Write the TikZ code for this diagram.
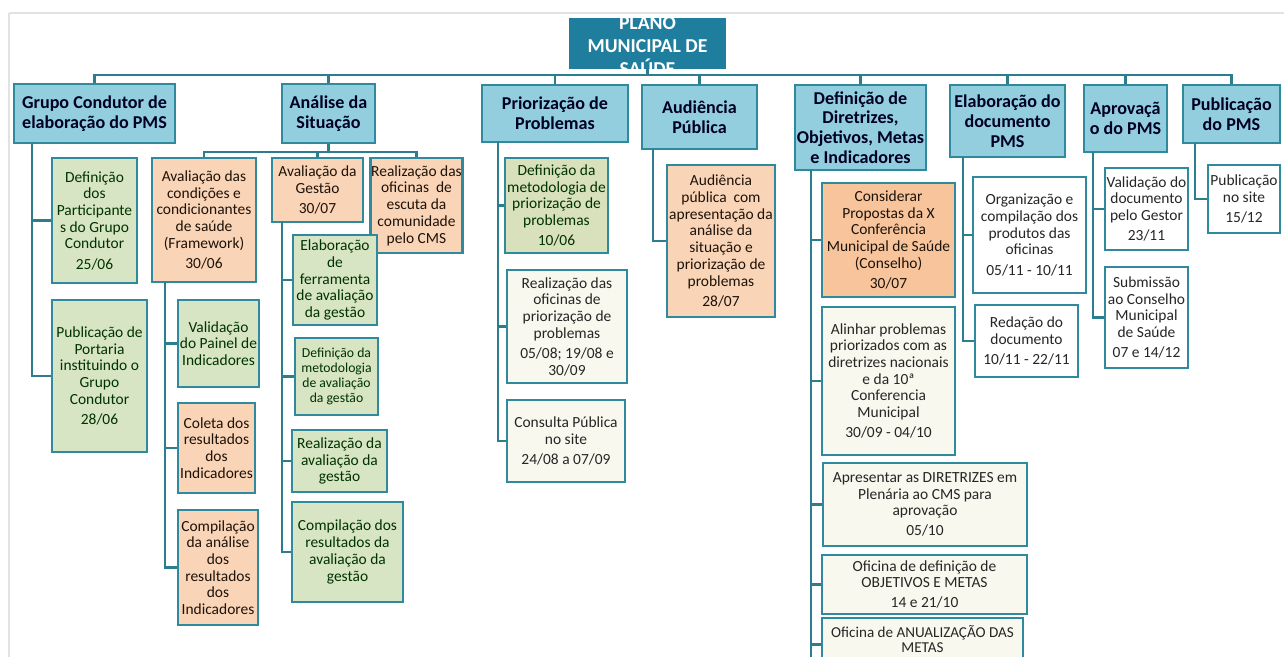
\documentclass[tikz,border=0pt]{standalone}
\usepackage{fontspec}
\setmainfont{Carlito}

\definecolor{bordc}{HTML}{2E8A9C}
\definecolor{linkc}{HTML}{2C7D8E}
\definecolor{titlec}{HTML}{1F7E9E}
\definecolor{headc}{HTML}{92CEDE}
\definecolor{greenc}{HTML}{D7E5C4}
\definecolor{olivec}{HTML}{D8E0BC}
\definecolor{orangec}{HTML}{FAD4B6}
\definecolor{orangedc}{HTML}{F8C49C}
\definecolor{lightc}{HTML}{F8F8EE}
\definecolor{edgec}{HTML}{E2E2E2}

\begin{document}
\begin{tikzpicture}
    [
        plano/.style = {draw=titlec, fill=titlec, shape=rectangle, line width=1pt},
        planotext/.style = {text=white, font=\fontsize{11.2}{13.2}\selectfont\bfseries, align=center},
        header/.style = {draw=bordc, fill=headc, shape=rectangle, line width=1.5pt, inner sep=1pt, align=center, text=black!85!blue, font=\fontsize{10.3}{11.3}\selectfont\bfseries},
        green/.style = {draw=bordc, fill=greenc, shape=rectangle, line width=1.5pt, inner sep=0.5pt, align=center, text=black!80!green, font=\fontsize{8.8}{9.5}\selectfont},
        orange/.style = {draw=bordc, fill=orangec, shape=rectangle, line width=1.5pt, inner sep=0.5pt, align=center, text=black!85!brown, font=\fontsize{8.8}{9.5}\selectfont},
        light/.style = {draw=bordc, fill=lightc, shape=rectangle, line width=1.5pt, inner sep=0.5pt, align=center, text=black!85, font=\fontsize{8.8}{9.5}\selectfont},
        link/.style = {draw=linkc, line width=1.4pt},
    ]

    \useasboundingbox (0,0) rectangle (25.68,-13.14);
    \fill[white] (0,0) rectangle (25.68,-13.14);
    \draw[edgec, line width=1pt] (0.18,-0.26) -- (0.18,-13.14);
    \draw[edgec, line width=1pt] (0.18,-0.26) -- (25.68,-0.26);

    % title
    \node[plano, minimum width=3.10cm, minimum height=0.98cm] (plano) at (12.95,-0.87) {};
    \begin{scope}
        \clip (plano.south west) rectangle (plano.north east);
        \node[planotext] (planot) at (12.95,-0.92) {PLANO\\MUNICIPAL DE\\SAÚDE};
    \end{scope}

    % headers
    \node[header, minimum width=3.22cm, minimum height=1.18cm] (hA) at (1.89,-2.27)  {Grupo Condutor de\\elaboração do PMS};
    \node[header, minimum width=1.86cm, minimum height=1.18cm] (hB) at (6.57,-2.27)  {Análise da\\Situação};
    \node[header, minimum width=2.92cm, minimum height=1.14cm] (hC) at (11.10,-2.27) {Priorização de\\Problemas};
    \node[header, minimum width=2.30cm, minimum height=1.28cm] (hD) at (13.99,-2.34) {Audiência\\Pública};
    \node[header, minimum width=2.58cm, minimum height=1.70cm] (hE) at (17.21,-2.55) {Definição de\\Diretrizes,\\Objetivos, Metas\\e Indicadores};
    \node[header, minimum width=2.30cm, minimum height=1.44cm] (hF) at (20.15,-2.42) {Elaboração do\\documento\\PMS};
    \node[header, minimum width=1.66cm, minimum height=1.34cm] (hG) at (22.51,-2.37) {Aprovaçã\\o do PMS};
    \node[header, minimum width=1.94cm, minimum height=1.16cm] (hH) at (24.63,-2.28) {Publicação\\do PMS};

    % grupo condutor
    \node[green, minimum width=1.70cm, minimum height=2.50cm] (a1) at (1.89,-4.41) {Definição\\dos\\Participante\\s do Grupo\\Condutor\\[2pt]25/06};
    \node[green, minimum width=1.90cm, minimum height=3.04cm] (a2) at (1.99,-7.52) {Publicação de\\Portaria\\instituindo o\\Grupo\\Condutor\\[2pt]28/06};

    % analise da situacao
    \node[orange, minimum width=2.08cm, minimum height=2.48cm] (b1) at (4.08,-4.40) {Avaliação das\\condições e\\condicionantes\\de saúde\\(Framework)\\[2pt]30/06};
    \node[orange, minimum width=1.82cm, minimum height=1.28cm] (b2) at (6.35,-3.80) {Avaliação da\\Gestão\\[2pt]30/07};
    \node[orange, minimum width=1.66cm, minimum height=1.90cm] (b3) at (8.33,-4.11) {Realização das\\oficinas\ \ de\\escuta da\\comunidade\\pelo CMS};
    \node[green, minimum width=1.62cm, minimum height=1.74cm] (b1a) at (4.37,-6.87) {Validação\\do Painel de\\Indicadores};
    \node[orange, minimum width=1.54cm, minimum height=1.80cm] (b1b) at (4.33,-8.96) {Coleta dos\\resultados\\dos\\Indicadores};
    \node[orange, minimum width=1.60cm, minimum height=2.30cm] (b1c) at (4.36,-11.35) {Compilação\\da análise\\dos\\resultados\\dos\\Indicadores};
    \node[green, minimum width=1.68cm, minimum height=1.80cm] (b2a) at (6.70,-5.60) {Elaboração\\de\\ferramenta\\de avaliação\\da gestão};
    \node[green, minimum width=1.66cm, minimum height=1.54cm, font=\fontsize{7.8}{8.6}\selectfont] (b2b) at (6.73,-7.53) {Definição da\\metodologia\\de avaliação\\da gestão};
    \node[green, minimum width=1.90cm, minimum height=1.24cm] (b2c) at (6.79,-9.22) {Realização da\\avaliação da\\gestão};
    \node[green, minimum width=2.22cm, minimum height=2.00cm] (b2d) at (6.95,-11.04) {Compilação dos\\resultados da\\avaliação da\\gestão};

    % priorizacao
    \node[green, fill=olivec, minimum width=2.06cm, minimum height=1.90cm] (c1) at (11.13,-4.11) {Definição da\\metodologia de\\priorização de\\problemas\\[2pt]10/06};
    \node[light, minimum width=2.40cm, minimum height=2.26cm] (c2) at (11.34,-6.53) {Realização das\\oficinas de\\priorização de\\problemas\\[2pt]05/08; 19/08 e\\30/09};
    \node[light, minimum width=2.36cm, minimum height=1.64cm] (c3) at (11.32,-8.82) {Consulta Pública\\no site\\[2pt]24/08 a 07/09};

    % audiencia
    \node[orange, minimum width=2.16cm, minimum height=3.04cm] (d1) at (14.42,-4.82) {Audiência\\pública\ \ com\\apresentação da\\análise da\\situação e\\priorização de\\problemas\\[2pt]28/07};

    % diretrizes
    \node[orange, fill=orangedc, minimum width=2.66cm, minimum height=2.28cm] (e1) at (17.77,-4.80) {Considerar\\Propostas da X\\Conferência\\Municipal de Saúde\\(Conselho)\\[2pt]30/07};
    \node[light, minimum width=2.66cm, minimum height=2.96cm] (e2) at (17.77,-7.62) {Alinhar problemas\\priorizados com as\\diretrizes nacionais\\e da 10ª\\Conferencia\\Municipal\\[2pt]30/09 - 04/10};
    \node[light, minimum width=4.08cm, minimum height=1.66cm] (e3) at (18.50,-10.09) {Apresentar as DIRETRIZES em\\Plenária ao CMS para\\aprovação\\[2pt]05/10};
    \node[light, minimum width=4.10cm, minimum height=1.18cm] (e4) at (18.49,-11.69) {Oficina de definição de\\OBJETIVOS E METAS\\[2pt]14 e 21/10};
    \node[light, minimum width=4.02cm, minimum height=0.84cm, font=\fontsize{8.6}{8.4}\selectfont] (e5) at (18.45,-12.78) {Oficina de ANUALIZAÇÃO DAS\\METAS};

    % elaboracao
    \node[light, fill=white, minimum width=2.26cm, minimum height=2.32cm] (f1) at (20.59,-4.70) {Organização e\\compilação dos\\produtos das\\oficinas\\[2pt]05/11 - 10/11};
    \node[light, fill=white, minimum width=2.06cm, minimum height=1.44cm] (f2) at (20.53,-6.82) {Redação do\\documento\\[2pt]10/11 - 22/11};

    % aprovacao
    \node[light, fill=white, minimum width=1.66cm, minimum height=1.64cm] (g1) at (22.93,-4.18) {Validação do\\documento\\pelo Gestor\\[2pt]23/11};
    \node[light, fill=white, minimum width=1.66cm, minimum height=2.02cm] (g2) at (22.93,-6.35) {Submissão\\ao Conselho\\Municipal\\de Saúde\\[2pt]07 e 14/12};

    % publicacao
    \node[light, fill=white, minimum width=1.44cm, minimum height=1.36cm] (h1) at (24.88,-3.98) {Publicação\\no site\\[2pt]15/12};

    % connectors
    \coordinate (bar) at (12.95,-1.50);
    \draw[link] (plano.south) -- (bar);
    \foreach \h in {hA,hB,hC,hD,hE,hF,hG,hH}
        \draw[link] (bar) -| (\h.north);

    \coordinate (barB) at (6.57,-3.04);
    \draw[link] (hB.south) -- (barB);
    \foreach \c in {b1,b2,b3}
        \draw[link] (barB) -| (\c.north);

    \coordinate (sA) at (0.64,-2.86);
    \coordinate (sB1) at (3.30,-5.64);
    \coordinate (sB2) at (5.64,-4.44);
    \coordinate (sC) at (9.96,-2.84);
    \coordinate (sD) at (13.06,-2.98);
    \coordinate (sE) at (16.22,-3.40);
    \coordinate (sF) at (19.26,-3.14);
    \coordinate (sG) at (21.86,-3.04);
    \coordinate (sH) at (23.90,-2.86);

    \foreach \c in {a1,a2} \draw[link] (sA) |- (\c.west);
    \foreach \c in {b1a,b1b,b1c} \draw[link] (sB1) |- (\c.west);
    \foreach \c in {b2a,b2b,b2c,b2d} \draw[link] (sB2) |- (\c.west);
    \foreach \c in {c1,c2,c3} \draw[link] (sC) |- (\c.west);
    \draw[link] (sD) |- (d1.west);
    \foreach \c in {e1,e2,e3,e4} \draw[link] (sE) |- (\c.west);
    \draw[link] (sE) -- (16.22,-13.14);
    \draw[link] (sE) |- ([yshift=-3pt]e5.west);
    \foreach \c in {f1,f2} \draw[link] (sF) |- (\c.west);
    \foreach \c in {g1,g2} \draw[link] (sG) |- (\c.west);
    \draw[link] (sH) |- (h1.west);
\end{tikzpicture}
\end{document}
